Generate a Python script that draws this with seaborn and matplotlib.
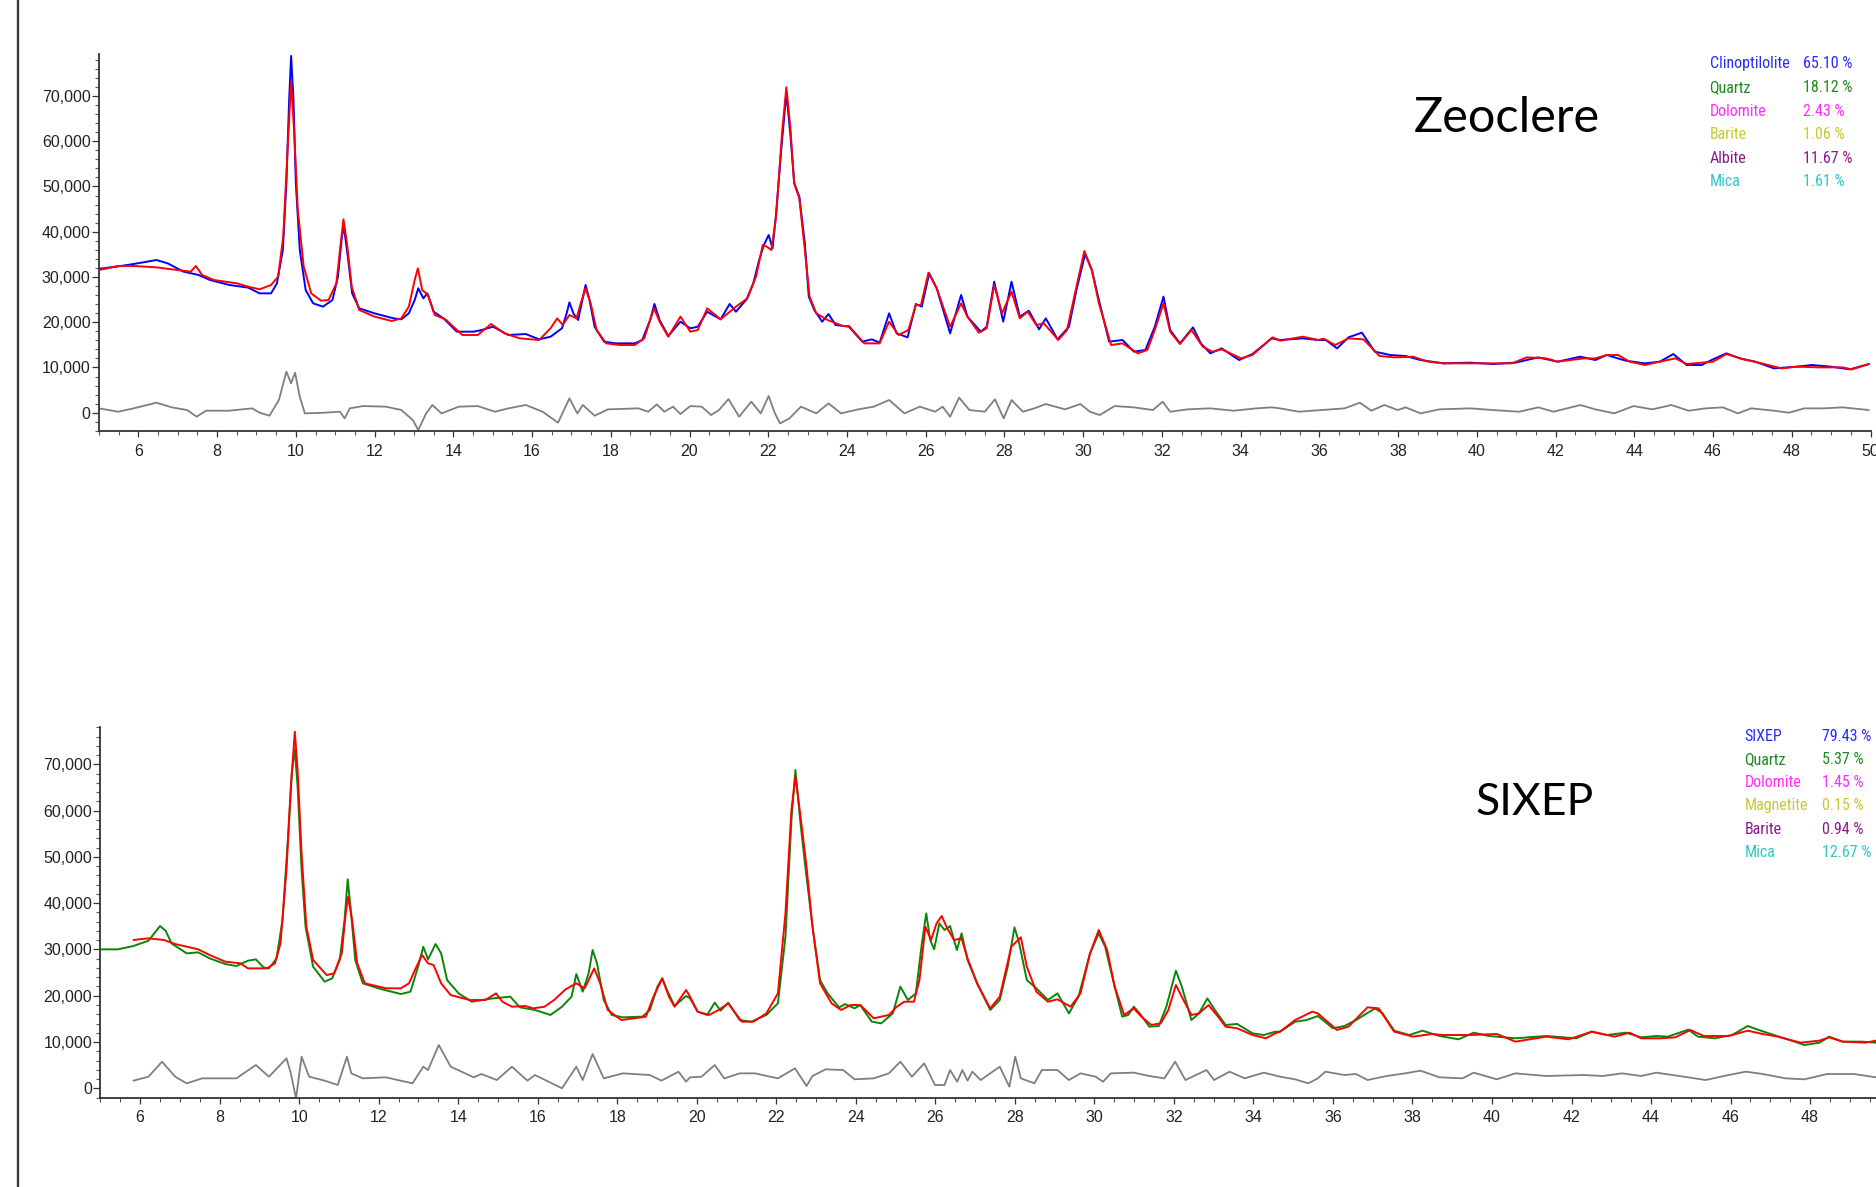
import matplotlib
matplotlib.use("Agg")
import matplotlib.pyplot as plt
import seaborn as sns
import pandas as pd
from matplotlib.ticker import MultipleLocator, FuncFormatter, FixedLocator
from matplotlib.lines import Line2D
from matplotlib import font_manager

# ---------------- data (2theta, counts) ----------------
zeo_observed = [
    (5.00, 31800), (5.45, 32300), (5.88, 32870), (6.46, 33750), (6.75, 33000), (7.14, 31200),
    (7.53, 30440), (7.82, 29330), (8.31, 28230), (8.79, 27640), (9.08, 26380), (9.37, 26380),
    (9.52, 28600), (9.67, 35970), (9.76, 50700), (9.83, 69130), (9.88, 78860), (9.94, 69130),
    (10.00, 50700), (10.10, 35970), (10.25, 27120), (10.44, 24170), (10.69, 23440), (10.93, 24910),
    (11.07, 30070), (11.17, 38910), (11.22, 41120), (11.32, 34490), (11.43, 26380), (11.61, 23070),
    (12.00, 21960), (12.48, 20860), (12.68, 20640), (12.87, 21960), (13.02, 24910), (13.11, 27490),
    (13.24, 25280), (13.34, 26380), (13.50, 22330), (13.75, 20860), (14.09, 17910), (14.52, 17910),
    (14.72, 18280), (15.01, 19010), (15.40, 17170), (15.84, 17390), (16.18, 16210), (16.47, 16800),
    (16.76, 18650), (16.88, 21960), (16.95, 24390), (17.05, 21960), (17.17, 20490), (17.26, 24170),
    (17.36, 28230), (17.46, 24910), (17.59, 19010), (17.83, 15700), (18.12, 15330), (18.61, 15330),
    (18.80, 16070), (19.00, 20490), (19.11, 24030), (19.24, 20490), (19.46, 16950), (19.77, 20120),
    (20.02, 18650), (20.21, 19010), (20.45, 22330), (20.79, 20640), (21.02, 24030), (21.18, 22330),
    (21.45, 25060), (21.62, 28600), (21.77, 33750), (21.89, 37070), (22.01, 39280), (22.11, 36330),
    (22.20, 44070), (22.33, 58080), (22.46, 70600), (22.56, 61760), (22.66, 50700), (22.79, 47760),
    (22.93, 37440), (23.03, 25650), (23.17, 22700), (23.37, 20120), (23.53, 21810), (23.71, 19380),
    (24.05, 19010), (24.39, 15700), (24.63, 16210), (24.83, 15480), (25.07, 21960), (25.26, 17540),
    (25.54, 16660), (25.75, 24030), (25.90, 23440), (26.09, 30810), (26.28, 27490), (26.62, 17540),
    (26.90, 26020), (27.06, 21230), (27.40, 17910), (27.55, 19010), (27.74, 28960), (27.97, 20120),
    (28.18, 28960), (28.39, 21230), (28.62, 22550), (28.88, 18430), (29.05, 20860), (29.35, 16210),
    (29.64, 19010), (29.83, 27120), (30.05, 35080), (30.22, 31540), (30.42, 24170), (30.66, 15700),
    (31.00, 16070), (31.29, 13490), (31.58, 13860), (31.82, 19010), (32.04, 25650), (32.21, 18280),
    (32.46, 15330), (32.79, 18870), (32.99, 15330), (33.23, 13120), (33.52, 14220), (33.96, 11640),
    (34.30, 12970), (34.79, 16430), (35.00, 16070), (35.58, 16430), (35.97, 16070), (36.16, 16070),
    (36.45, 14220), (36.74, 16660), (37.08, 17690), (37.41, 13490), (37.80, 12750), (38.19, 12530),
    (38.57, 11640), (39.15, 10910), (39.83, 11060), (40.41, 10760), (40.98, 11060), (41.56, 12230),
    (42.05, 11280), (42.63, 12380), (43.01, 11640), (43.30, 12750), (43.78, 11500), (44.27, 10910),
    (44.65, 11280), (44.99, 12970), (45.33, 10540), (45.71, 10540), (46.00, 11790), (46.34, 13120),
    (46.68, 12010), (47.07, 11280), (47.55, 9800), (48.13, 10170), (48.51, 10540), (49.00, 10170),
    (49.48, 9580), (49.96, 10760),
]

zeo_calculated = [
    (5.00, 31540), (5.49, 32430), (5.88, 32430), (6.46, 32130), (6.85, 31690), (7.33, 31180),
    (7.46, 32430), (7.62, 30440), (7.92, 29330), (8.50, 28600), (8.79, 27860), (9.08, 27270),
    (9.37, 28230), (9.55, 30070), (9.68, 38910), (9.79, 58080), (9.88, 73180), (9.96, 61760),
    (10.05, 44810), (10.20, 32280), (10.39, 26380), (10.64, 24760), (10.83, 24910), (11.03, 28600),
    (11.14, 37440), (11.21, 42750), (11.30, 37440), (11.42, 27860), (11.61, 22700), (12.00, 21230),
    (12.44, 20270), (12.68, 20860), (12.87, 23440), (13.02, 29330), (13.10, 31910), (13.21, 27120),
    (13.36, 26020), (13.53, 21590), (13.80, 20640), (14.23, 17170), (14.62, 17170), (14.96, 19600),
    (15.30, 17540), (15.69, 16430), (16.18, 16070), (16.47, 18650), (16.64, 20860), (16.78, 19380),
    (16.95, 21590), (17.13, 20860), (17.25, 24540), (17.36, 27490), (17.49, 24170), (17.64, 18280),
    (17.88, 15330), (18.22, 14960), (18.61, 14960), (18.85, 16430), (19.00, 20490), (19.10, 23070),
    (19.24, 20120), (19.46, 16800), (19.77, 21230), (20.02, 17910), (20.21, 18280), (20.45, 23070),
    (20.79, 20640), (21.18, 23440), (21.47, 25280), (21.69, 30070), (21.86, 37070), (21.96, 36700),
    (22.08, 35970), (22.20, 43340), (22.35, 61760), (22.46, 71930), (22.56, 63240), (22.66, 50700),
    (22.79, 47390), (22.93, 35970), (23.05, 25650), (23.22, 21960), (23.51, 20490), (23.90, 19160),
    (24.05, 19160), (24.44, 15330), (24.83, 15330), (25.07, 20120), (25.31, 17170), (25.56, 18280),
    (25.75, 23810), (25.88, 23810), (26.07, 30950), (26.28, 27490), (26.62, 19010), (26.90, 24170),
    (27.06, 21230), (27.35, 17690), (27.55, 18650), (27.74, 28230), (27.94, 21960), (28.18, 26750),
    (28.39, 20860), (28.59, 22330), (28.81, 19380), (29.00, 19750), (29.37, 16070), (29.59, 18280),
    (29.81, 27120), (30.03, 35740), (30.22, 31540), (30.40, 24170), (30.71, 14960), (31.00, 15330),
    (31.39, 13120), (31.63, 13860), (31.82, 18280), (32.04, 24170), (32.21, 17910), (32.46, 15180),
    (32.75, 18280), (33.04, 14590), (33.28, 13490), (33.52, 14000), (34.01, 12010), (34.30, 12750),
    (34.81, 16660), (35.00, 15920), (35.58, 16800), (35.97, 16070), (36.11, 16360), (36.40, 14960),
    (36.74, 16430), (37.12, 16210), (37.53, 12530), (37.90, 12230), (38.38, 12380), (38.76, 11280),
    (39.15, 10910), (39.83, 10910), (40.41, 10910), (40.89, 10910), (41.27, 12230), (41.76, 12010),
    (42.05, 11280), (42.72, 12010), (43.01, 12010), (43.30, 12750), (43.59, 12750), (43.88, 11280),
    (44.27, 10540), (44.65, 11280), (45.04, 12010), (45.33, 10760), (45.71, 11060), (46.00, 11280),
    (46.34, 12970), (46.78, 11790), (47.16, 11060), (47.74, 9800), (48.13, 10170), (48.71, 10020),
    (49.29, 10020), (49.53, 9580), (49.96, 10760),
]

zeo_difference = [
    (5.00, 960), (5.49, 220), (5.88, 960), (6.46, 2210), (6.85, 1180), (7.24, 590), (7.48, -880),
    (7.72, 440), (8.30, 440), (8.89, 960), (9.08, 0), (9.33, -660), (9.57, 2800), (9.76, 9070),
    (9.88, 6490), (9.98, 8840), (10.10, 3540), (10.23, -150), (10.73, 0), (11.12, 220), (11.24, -1250),
    (11.37, 960), (11.71, 1470), (12.29, 1330), (12.68, 590), (12.97, -1620), (13.11, -3830),
    (13.31, -150), (13.47, 1700), (13.70, -150), (14.14, 1330), (14.62, 1470), (15.06, 220),
    (15.40, 960), (15.84, 1700), (16.27, 220), (16.66, -2210), (16.95, 3170), (17.15, -150),
    (17.29, 1700), (17.59, -660), (17.93, 740), (18.70, 960), (18.95, 220), (19.17, 1840),
    (19.36, 220), (19.58, 1330), (19.77, -290), (20.02, 1470), (20.31, 1330), (20.55, -520),
    (20.75, 590), (20.99, 3020), (21.26, -880), (21.57, 2430), (21.81, -150), (22.01, 3690),
    (22.17, -150), (22.30, -2360), (22.54, -1250), (22.83, 1330), (23.22, -150), (23.53, 2060),
    (23.85, -150), (24.29, 740), (24.68, 1330), (25.07, 2800), (25.46, -150), (25.85, 1330),
    (26.24, 220), (26.43, 1330), (26.62, -880), (26.85, 3320), (27.11, 590), (27.50, 220),
    (27.76, 2950), (27.98, -1250), (28.18, 2800), (28.47, 220), (28.76, 960), (29.05, 1920),
    (29.54, 740), (29.93, 1920), (30.17, 220), (30.42, -520), (30.80, 1470), (31.29, 1180),
    (31.77, 590), (32.02, 2430), (32.21, 220), (32.65, 740), (33.23, 960), (33.82, 440),
    (34.40, 960), (34.79, 1180), (35.00, 960), (35.48, 220), (36.06, 590), (36.64, 960),
    (37.03, 2210), (37.32, 440), (37.65, 1700), (37.99, 590), (38.19, 1180), (38.57, -150),
    (39.05, 740), (39.83, 960), (40.41, 590), (41.08, 220), (41.56, 1180), (41.95, 220),
    (42.63, 1700), (43.01, 740), (43.49, -150), (43.98, 1470), (44.46, 740), (44.94, 1700),
    (45.38, 440), (45.81, 960), (46.25, 1180), (46.63, -150), (46.97, 960), (47.55, 440),
    (47.93, 0), (48.32, 960), (48.80, 960), (49.29, 1180), (49.96, 590),
]

six_observed = [
    (5.00, 30020), (5.44, 30020), (5.83, 30740), (6.21, 31890), (6.50, 35060), (6.64, 34050),
    (6.79, 31310), (7.17, 29150), (7.46, 29370), (7.75, 28070), (8.14, 26850), (8.42, 26420),
    (8.71, 27570), (8.91, 27860), (9.10, 26130), (9.24, 25910), (9.43, 28070), (9.58, 36360),
    (9.72, 54360), (9.82, 68760), (9.89, 73220), (9.96, 65160), (10.06, 47160), (10.16, 34910),
    (10.35, 26270), (10.64, 23030), (10.83, 23750), (11.02, 27710), (11.14, 36360), (11.22, 45140),
    (11.29, 39240), (11.41, 27710), (11.60, 22670), (12.08, 21380), (12.56, 20370), (12.80, 20880),
    (12.99, 26270), (13.12, 30590), (13.24, 27860), (13.43, 31170), (13.57, 29150), (13.72, 23390),
    (14.01, 20510), (14.34, 18710), (14.87, 19430), (15.31, 19790), (15.55, 17490), (15.93, 16920),
    (16.32, 15840), (16.61, 17630), (16.85, 19790), (16.97, 24690), (17.13, 20880), (17.28, 24840),
    (17.38, 29870), (17.49, 26990), (17.66, 19070), (17.86, 15840), (18.14, 15330), (18.63, 15480),
    (18.82, 16920), (19.01, 21950), (19.13, 23750), (19.25, 21230), (19.44, 17780), (19.73, 19940),
    (19.83, 19430), (20.02, 16560), (20.26, 15840), (20.45, 18500), (20.60, 16770), (20.79, 18500),
    (21.08, 14750), (21.37, 14390), (21.75, 15840), (22.04, 18360), (22.23, 32750), (22.38, 57950),
    (22.48, 68760), (22.60, 57950), (22.72, 48600), (22.91, 34910), (23.10, 23390), (23.29, 20510),
    (23.58, 17470), (23.73, 18190), (23.97, 17270), (24.11, 17990), (24.40, 14390), (24.64, 14040),
    (24.93, 16190), (25.12, 21950), (25.31, 19070), (25.51, 20510), (25.65, 30590), (25.77, 37790),
    (25.87, 32040), (25.97, 30020), (26.10, 35640), (26.23, 34200), (26.37, 35060), (26.54, 29870),
    (26.66, 33480), (26.81, 27710), (27.05, 22670), (27.38, 16920), (27.62, 19070), (27.82, 26270),
    (27.99, 34770), (28.10, 31670), (28.30, 23390), (28.54, 21590), (28.83, 19070), (29.07, 20510),
    (29.36, 16190), (29.60, 19790), (29.89, 29150), (30.11, 33480), (30.27, 30590), (30.51, 21950),
    (30.70, 15480), (30.85, 15840), (30.99, 17630), (31.14, 16190), (31.38, 13320), (31.62, 13460),
    (31.81, 17630), (32.05, 25410), (32.20, 21950), (32.44, 14750), (32.63, 16190), (32.84, 19430),
    (33.03, 16920), (33.30, 13680), (33.59, 13900), (33.98, 11870), (34.26, 11510), (34.55, 12240),
    (34.67, 12230), (35.05, 14390), (35.34, 14750), (35.62, 15620), (36.00, 12960), (36.29, 13460),
    (36.58, 14750), (37.06, 17270), (37.25, 16190), (37.54, 12450), (37.92, 11510), (38.25, 12450),
    (38.68, 11300), (39.16, 10580), (39.54, 12020), (39.92, 11300), (40.59, 10800), (41.36, 11300),
    (42.12, 10800), (42.51, 12240), (42.89, 11510), (43.37, 12020), (43.75, 11010), (44.13, 11300),
    (44.42, 11160), (44.94, 12670), (45.18, 11160), (45.61, 10800), (46.04, 11510), (46.43, 13460),
    (46.71, 12600), (47.09, 11510), (47.48, 10440), (47.86, 9360), (48.24, 9860), (48.48, 11160),
    (48.82, 10080), (49.30, 10080), (49.66, 9860),
]

six_calculated = [
    (5.83, 32040), (6.21, 32400), (6.60, 32040), (6.88, 31170), (7.46, 30020), (7.75, 28790),
    (8.14, 27360), (8.52, 27000), (8.71, 25910), (9.19, 25910), (9.39, 27000), (9.53, 31310),
    (9.68, 47160), (9.79, 65160), (9.89, 77030), (9.96, 68760), (10.06, 50760), (10.18, 34910),
    (10.35, 27710), (10.69, 24470), (10.88, 24830), (11.07, 29150), (11.17, 37800), (11.23, 41390),
    (11.33, 36360), (11.46, 27000), (11.65, 22670), (12.18, 21600), (12.56, 21600), (12.76, 22670),
    (12.95, 26270), (13.09, 28790), (13.24, 27000), (13.38, 26630), (13.57, 22670), (13.81, 20150),
    (14.29, 19070), (14.68, 19070), (14.95, 20510), (15.11, 18710), (15.35, 17630), (15.69, 17780),
    (15.88, 17270), (16.17, 17630), (16.41, 19070), (16.70, 21380), (16.97, 22670), (17.18, 21600),
    (17.42, 25910), (17.57, 22670), (17.76, 16920), (18.10, 14750), (18.43, 15120), (18.72, 15480),
    (18.91, 19790), (19.13, 23750), (19.30, 19790), (19.44, 17630), (19.73, 21230), (19.83, 19790),
    (20.02, 16560), (20.31, 15840), (20.55, 16920), (20.79, 18360), (21.13, 14390), (21.42, 14390),
    (21.75, 16190), (22.04, 20510), (22.23, 37800), (22.38, 60110), (22.48, 67320), (22.60, 59390),
    (22.76, 47880), (22.91, 34910), (23.10, 22670), (23.39, 18360), (23.63, 16920), (23.87, 17990),
    (24.11, 17990), (24.45, 15120), (24.83, 15840), (25.03, 17630), (25.22, 18710), (25.46, 18710),
    (25.60, 23390), (25.75, 34910), (25.89, 32040), (26.03, 35640), (26.16, 37220), (26.30, 34550),
    (26.47, 32040), (26.66, 32400), (26.81, 28070), (27.05, 22670), (27.38, 17270), (27.62, 19790),
    (27.91, 30590), (28.15, 32620), (28.30, 26270), (28.54, 20870), (28.83, 18710), (29.07, 19220),
    (29.40, 17630), (29.65, 20510), (29.89, 29150), (30.11, 34200), (30.32, 29870), (30.51, 21950),
    (30.75, 15840), (30.99, 17270), (31.18, 15480), (31.43, 13680), (31.67, 14040), (31.86, 16920),
    (32.05, 22310), (32.24, 19070), (32.44, 15840), (32.63, 16190), (32.87, 17990), (33.11, 15480),
    (33.30, 13320), (33.59, 12960), (33.98, 11510), (34.31, 10800), (34.55, 11870), (34.67, 12230),
    (35.05, 14750), (35.48, 16560), (35.62, 16190), (36.10, 12600), (36.39, 13320), (36.87, 17490),
    (37.15, 17270), (37.54, 12240), (38.01, 11160), (38.49, 11730), (38.78, 11510), (39.45, 11510),
    (40.12, 11730), (40.59, 10080), (41.36, 11160), (41.93, 10580), (42.51, 12240), (43.08, 11160),
    (43.46, 12020), (43.75, 10800), (44.23, 10800), (44.61, 11010), (44.99, 12600), (45.33, 11300),
    (45.95, 11300), (46.43, 12450), (46.81, 11730), (47.19, 11160), (47.76, 9860), (48.24, 10300),
    (48.48, 11010), (48.82, 10080), (49.39, 9860), (49.66, 10300),
]

six_difference = [
    (5.83, 1650), (6.21, 2510), (6.55, 5750), (6.88, 2510), (7.17, 1070), (7.56, 2150), (8.04, 2150),
    (8.42, 2150), (8.91, 5030), (9.24, 2510), (9.68, 6470), (9.79, 3230), (9.92, -2170), (10.06, 6830),
    (10.25, 2510), (10.64, 1650), (10.97, 710), (11.20, 6830), (11.31, 3230), (11.60, 2150),
    (12.18, 2370), (12.85, 1070), (13.12, 4670), (13.24, 3950), (13.51, 9350), (13.81, 4670),
    (14.39, 2370), (14.58, 3090), (14.97, 1790), (15.35, 4670), (15.74, 1650), (15.93, 2870),
    (16.61, 0), (16.97, 4670), (17.13, 1790), (17.38, 7410), (17.66, 2150), (18.14, 3230),
    (18.82, 2870), (19.11, 1650), (19.54, 3590), (19.73, 1430), (19.83, 2370), (20.12, 2510),
    (20.45, 5030), (20.69, 2150), (21.08, 3230), (21.46, 3230), (22.04, 2150), (22.47, 4310),
    (22.76, 500), (22.91, 2660), (23.24, 4100), (23.68, 3950), (23.97, 1940), (24.45, 2150),
    (24.83, 3230), (25.12, 5750), (25.41, 2510), (25.72, 5390), (25.99, 710), (26.23, 710),
    (26.37, 3950), (26.55, 1430), (26.68, 3950), (26.81, 1650), (26.93, 3590), (27.14, 1790),
    (27.62, 4670), (27.86, 350), (28.01, 6830), (28.15, 2150), (28.49, 1070), (28.68, 3950),
    (29.07, 3950), (29.36, 1790), (29.65, 3230), (30.03, 2510), (30.22, 1430), (30.41, 3230),
    (30.99, 3380), (31.38, 2660), (31.76, 2150), (32.03, 5750), (32.29, 1790), (32.82, 3950),
    (33.01, 1790), (33.40, 3590), (33.78, 2150), (34.26, 3380), (34.67, 2510), (35.05, 1940),
    (35.38, 1070), (35.62, 2150), (35.81, 3590), (36.29, 2870), (36.58, 3090), (36.87, 1790),
    (37.35, 2660), (37.82, 3230), (38.20, 3810), (38.68, 2370), (39.26, 2150), (39.54, 3380),
    (40.12, 1940), (40.59, 3230), (41.36, 2660), (42.31, 2870), (42.79, 2660), (43.27, 3230),
    (43.75, 2660), (44.13, 3380), (44.71, 2660), (45.37, 1790), (45.95, 2870), (46.38, 3590),
    (46.81, 3090), (47.38, 2150), (47.86, 1940), (48.43, 3090), (49.10, 3090), (49.66, 2370),
]

zeo_title = "Zeoclere"
six_title = "SIXEP"
zeo_phases = ["Clinoptilolite", "Quartz", "Dolomite", "Barite", "Albite", "Mica"]
zeo_percent = ["65.10 %", "18.12 %", "2.43 %", "1.06 %", "11.67 %", "1.61 %"]
six_phases = ["SIXEP", "Quartz", "Dolomite", "Magnetite", "Barite", "Mica"]
six_percent = ["79.43 %", "5.37 %", "1.45 %", "0.15 %", "0.94 %", "12.67 %"]
top_x_ticks = list(range(6, 51, 2))
bot_x_ticks = list(range(6, 49, 2))
y_ticks = list(range(0, 70001, 10000))

# ---------------- styling ----------------
sns.set_theme(style="ticks")
plt.rcParams['font.family'] = ['Liberation Sans', 'DejaVu Sans']


def has_font(name):
    try:
        font_manager.findfont(name, fallback_to_default=False)
        return True
    except Exception:
        return False


if has_font('Liberation Sans Narrow'):
    legend_family, legend_size = ['Liberation Sans Narrow'], 12
elif has_font('Roboto Condensed'):
    legend_family, legend_size = ['Roboto Condensed'], 11.5
else:
    legend_family, legend_size = ['DejaVu Sans Condensed', 'DejaVu Sans'], 9.3
title_family = ['Lato', 'DejaVu Sans']

row_colors = ["#2a2aff", "#1f8a1f", "#ff2eff", "#c9c930", "#8c198c", "#2ec9c9"]
AX_COLOR = "#333333"

W, H = 1876, 1187
fig = plt.figure(figsize=(W / 100, H / 100), dpi=100, facecolor="white")


def frac_rect(x0, x1, ytop, ybot):
    return [x0 / W, 1 - ybot / H, (x1 - x0) / W, (ybot - ytop) / H]


ax_top = fig.add_axes(frac_rect(99, 1870.5, 54.3, 431))
ax_bot = fig.add_axes(frac_rect(100.4, 1889.6, 726.7, 1097.7))


def draw(ax, pts, color, lw, z):
    df = pd.DataFrame(pts, columns=["two_theta", "counts"])
    sns.lineplot(data=df, x="two_theta", y="counts", ax=ax, color=color, linewidth=lw,
                 estimator=None, sort=False, zorder=z)


draw(ax_top, zeo_difference, "#7f7f7f", 1.3, 2)
draw(ax_top, zeo_observed, "#0000ff", 1.4, 3)
draw(ax_top, zeo_calculated, "#ff0000", 1.4, 4)

draw(ax_bot, six_difference, "#7f7f7f", 1.3, 2)
draw(ax_bot, six_observed, "#0a860a", 1.4, 3)
draw(ax_bot, six_calculated, "#ff0000", 1.4, 4)

fmt = FuncFormatter(lambda v, p: f"{v:,.0f}")
for ax, ylim, xt in ((ax_top, (-4045, 79220), top_x_ticks), (ax_bot, (-2030, 78120), bot_x_ticks)):
    ax.set_xlim(5, 50)
    ax.set_ylim(*ylim)
    ax.set_facecolor("none")
    ax.set_xlabel("")
    ax.set_ylabel("")
    for s in ("top", "right"):
        ax.spines[s].set_visible(False)
    for s in ("left", "bottom"):
        ax.spines[s].set_color(AX_COLOR)
        ax.spines[s].set_linewidth(1.3)
    ax.xaxis.set_major_locator(FixedLocator(xt))
    ax.xaxis.set_minor_locator(MultipleLocator(0.5))
    ax.yaxis.set_major_locator(FixedLocator(y_ticks))
    ax.yaxis.set_minor_locator(MultipleLocator(2000))
    ax.yaxis.set_major_formatter(fmt)
    ax.tick_params(axis="x", which="major", length=4.5, width=0.9, color=AX_COLOR,
                   labelsize=11.5, labelcolor="#222222", pad=4.5, direction="out")
    ax.tick_params(axis="x", which="minor", length=2.8, width=0.8, color="#555555", direction="out")
    ax.tick_params(axis="y", which="major", length=5, width=0.9, color=AX_COLOR,
                   labelsize=11.5, labelcolor="#222222", pad=1, direction="out")
    ax.tick_params(axis="y", which="minor", length=2.8, width=0.8, color="#555555", direction="out")
    ax.grid(False)

# titles
fig.text(1507 / W, 1 - 131.7 / H, zeo_title, family=title_family, fontsize=35,
         ha="center", va="baseline", color="black")
fig.text(1534.7 / W, 1 - 815 / H, six_title, family=title_family, fontsize=32,
         ha="center", va="baseline", color="black")

# phase tables
for i, (name, pct) in enumerate(zip(zeo_phases, zeo_percent)):
    yb = 1 - (68.3 + 23.6 * i) / H
    fig.text(1709.5 / W, yb, name, family=legend_family, fontsize=legend_size,
             color=row_colors[i], ha="left", va="baseline")
    fig.text(1802.6 / W, yb, pct, family=legend_family, fontsize=legend_size,
             color=row_colors[i], ha="left", va="baseline")

for i, (name, pct) in enumerate(zip(six_phases, six_percent)):
    yb = 1 - (740.7 + 23.2 * i) / H
    fig.text(1744.5 / W, yb, name, family=legend_family, fontsize=legend_size,
             color=row_colors[i], ha="left", va="baseline")
    fig.text(1822.0 / W, yb, pct, family=legend_family, fontsize=legend_size,
             color=row_colors[i], ha="left", va="baseline")

# left frame line of the slide
fig.add_artist(Line2D([17.8 / W, 17.8 / W], [0, 1], transform=fig.transFigure,
                      color="#3a3a3a", linewidth=1.7))

fig.savefig("out.png", dpi=100, facecolor="white")
